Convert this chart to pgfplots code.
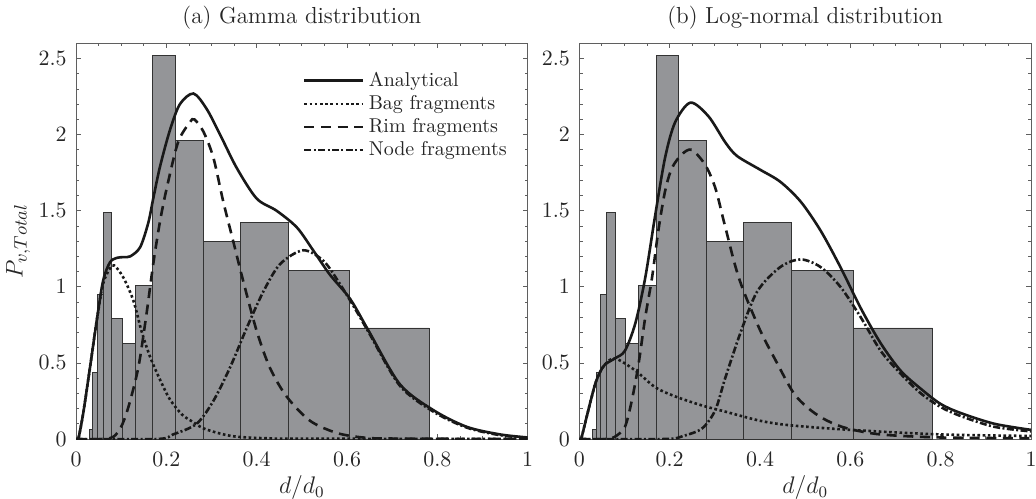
\documentclass[border=0pt]{standalone}
\usepackage{pgfplots}
\usepackage{pgfplotstable}
\pgfplotsset{compat=1.18}

\definecolor{barfill}{RGB}{148,149,152}
\definecolor{axgray}{RGB}{95,95,95}

% measured histogram (left bin edges, last row closes the final bin)
\pgfplotstableread{
d      p
0.029  0.06
0.037  0.44
0.047  0.95
0.061  1.49
0.079  0.79
0.102  0.63
0.131  1.01
0.170  2.52
0.219  1.96
0.282  1.30
0.364  1.42
0.470  1.11
0.606  0.73
0.782  0.73
}\histdata

\pgfplotsset{
  fragaxis/.style={
    scale only axis, width=225.85pt, height=197.85pt,
    anchor=south west,
    xmin=0, xmax=1, ymin=0, ymax=2.6,
    xtick={0,0.2,0.4,0.6,0.8,1},
    ytick={0,0.5,1,1.5,2,2.5},
    minor x tick num=3, minor y tick num=4,
    tick align=inside,
    major tick length=2.5pt, minor tick length=1.6pt,
    axis line style={axgray, line width=0.5pt},
    every tick/.style={axgray, line width=0.4pt},
    tick label style={font=\fontsize{10.7}{12.8}\selectfont, text=black!85},
    xticklabel style={yshift=-3pt},
    yticklabel style={xshift=-1.2pt},
    every axis title/.style={at={(0.5,1.064)}, anchor=center,
        font=\fontsize{11.6}{14}\selectfont, text=black!85},
    every axis x label/.style={at={(axis description cs:0.5,-0.123)}, anchor=center,
        font=\fontsize{11.6}{14}\selectfont, text=black!85},
    every axis y label/.style={at={(axis description cs:-0.128,0.5)}, rotate=90, anchor=center,
        font=\fontsize{12.5}{15}\selectfont, text=black!85},
    xlabel={$d/d_0$},
  },
  hist/.style={ybar interval, fill=barfill, draw=black!80, line width=0.4pt, forget plot},
  analytic/.style={black!90, line width=1.3pt, smooth},
  bag/.style={black!90, line width=1.3pt, smooth, dash pattern=on 1.3pt off 1.3pt},
  rim/.style={black!90, line width=1.3pt, smooth, dash pattern=on 5pt off 3.3pt},
  node/.style={black!90, line width=1.3pt, smooth, dash pattern=on 3.5pt off 1.2pt on 1pt off 1.2pt},
}

\begin{document}
\begin{tikzpicture}
\path[use as bounding box] (0,0) rectangle (518pt,249pt);

% (a) Gamma
\begin{axis}[fragaxis, at={(38pt,29.5pt)},
    title={(a) Gamma distribution},
    ylabel={$P_{v,Total}$},
    legend style={at={(axis cs:0.502,2.44)}, anchor=north west, draw=none, fill=none,
                  inner sep=0pt, row sep=-1pt, font=\normalsize, text=black!85},
    legend cell align=left,
    legend image code/.code={\draw[#1] (0pt,0pt) -- (29.5pt,0pt);},
]
\addplot[hist] table[x=d, y=p] {\histdata};
\addplot[analytic] coordinates {
 (0,0) (0.005,0) (0.016,0.17) (0.031,0.47) (0.046,0.78) (0.060,1.04) (0.075,1.16)
 (0.090,1.19) (0.105,1.195) (0.120,1.20) (0.142,1.26) (0.160,1.42) (0.171,1.58)
 (0.186,1.79) (0.208,2.03) (0.230,2.20) (0.260,2.27) (0.289,2.17) (0.319,2.00)
 (0.356,1.78) (0.400,1.58) (0.444,1.50) (0.489,1.39) (0.525,1.24) (0.562,1.08)
 (0.607,0.92) (0.648,0.71) (0.717,0.36) (0.791,0.19) (0.865,0.08) (0.939,0.03) (1,0.01)};
\addlegendentry{Analytical}
\addplot[bag] coordinates {
 (0,0) (0.005,0) (0.016,0.17) (0.031,0.47) (0.046,0.78) (0.060,1.02) (0.075,1.12)
 (0.085,1.14) (0.105,1.06) (0.127,0.91) (0.145,0.71) (0.164,0.54) (0.186,0.39)
 (0.208,0.26) (0.235,0.16) (0.260,0.11) (0.282,0.07) (0.320,0.035) (0.356,0.015)
 (0.420,0.005) (0.500,0.002) (1,0)};
\addlegendentry{Bag fragments}
\addplot[rim] coordinates {
 (0,0) (0.060,0) (0.083,0.015) (0.100,0.08) (0.116,0.21) (0.138,0.47) (0.156,0.82)
 (0.171,1.15) (0.186,1.43) (0.201,1.65) (0.226,1.95) (0.252,2.08) (0.262,2.10)
 (0.282,2.02) (0.304,1.85) (0.326,1.56) (0.348,1.30) (0.370,1.04) (0.400,0.71)
 (0.429,0.47) (0.466,0.28) (0.518,0.12) (0.577,0.04) (0.635,0.01) (0.700,0.003) (1,0)};
\addlegendentry{Rim fragments}
\addplot[node] coordinates {
 (0,0) (0.180,0) (0.215,0.03) (0.267,0.10) (0.304,0.25) (0.341,0.47) (0.378,0.73)
 (0.415,0.97) (0.452,1.15) (0.503,1.24) (0.548,1.17) (0.584,1.02) (0.621,0.84)
 (0.650,0.69) (0.717,0.35) (0.791,0.18) (0.865,0.075) (0.939,0.025) (1,0.008)};
\addlegendentry{Node fragments}
\end{axis}

% (b) Log-normal
\begin{axis}[fragaxis, at={(289.65pt,29.5pt)},
    title={(b) Log-normal distribution},
]
\addplot[hist] table[x=d, y=p] {\histdata};
\addplot[analytic] coordinates {
 (0,0) (0.004,0) (0.020,0.19) (0.035,0.36) (0.046,0.44) (0.057,0.49) (0.079,0.53)
 (0.101,0.58) (0.124,0.76) (0.146,1.06) (0.168,1.47) (0.190,1.85) (0.212,2.08)
 (0.246,2.21) (0.286,2.12) (0.323,1.95) (0.349,1.86) (0.400,1.77) (0.445,1.69)
 (0.490,1.56) (0.534,1.37) (0.578,1.13) (0.623,0.86) (0.667,0.63) (0.711,0.45)
 (0.756,0.33) (0.800,0.23) (0.845,0.17) (0.919,0.10) (1,0.06)};
\addplot[bag] coordinates {
 (0,0) (0.004,0) (0.020,0.19) (0.035,0.36) (0.046,0.44) (0.057,0.49) (0.079,0.53)
 (0.124,0.45) (0.168,0.34) (0.212,0.28) (0.272,0.22) (0.323,0.18) (0.400,0.12)
 (0.467,0.09) (0.600,0.06) (0.800,0.03) (1,0.02)};
\addplot[rim] coordinates {
 (0,0) (0.060,0) (0.079,0.015) (0.101,0.08) (0.116,0.25) (0.131,0.49) (0.146,0.80)
 (0.161,1.06) (0.175,1.37) (0.190,1.63) (0.205,1.78) (0.227,1.87) (0.249,1.90)
 (0.279,1.80) (0.301,1.65) (0.320,1.43) (0.345,1.14) (0.364,0.97) (0.401,0.71)
 (0.434,0.52) (0.475,0.30) (0.512,0.19) (0.549,0.12) (0.593,0.07) (0.667,0.03)
 (0.800,0.01) (1,0.005)};
\addplot[node] coordinates {
 (0,0) (0.190,0) (0.230,0.02) (0.272,0.07) (0.301,0.19) (0.323,0.40) (0.357,0.70)
 (0.394,0.97) (0.445,1.13) (0.490,1.18) (0.534,1.13) (0.578,1.00) (0.623,0.80)
 (0.667,0.58) (0.711,0.43) (0.756,0.30) (0.800,0.21) (0.845,0.15) (0.919,0.08) (1,0.05)};
\end{axis}
\end{tikzpicture}
\end{document}
